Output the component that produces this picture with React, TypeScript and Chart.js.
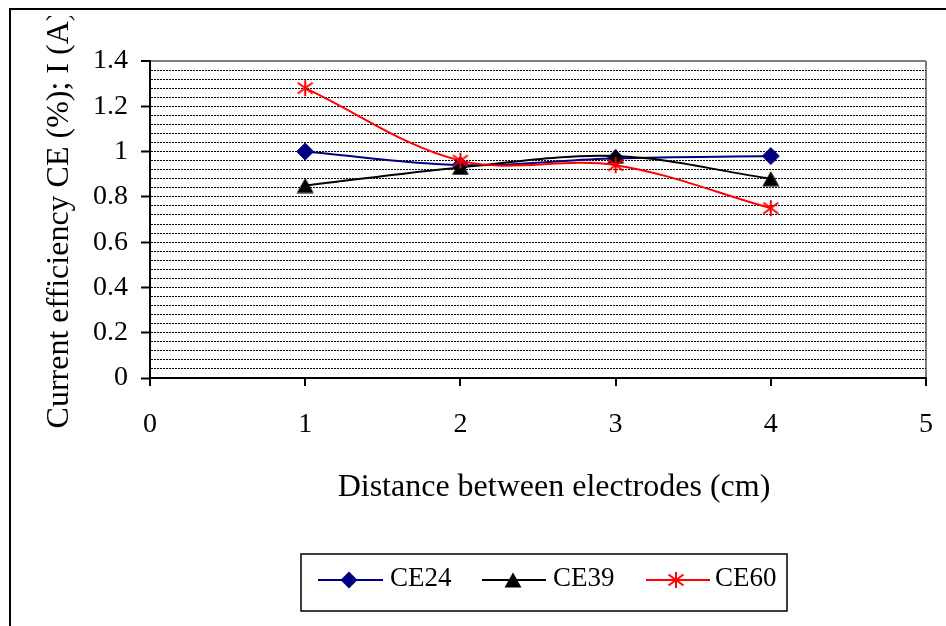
import React, { useEffect, useRef } from "react";
import { Chart, registerables } from "chart.js";

Chart.register(...registerables);

// ---- data ----
const distances = [1, 2, 3, 4];
const ce24 = [1.0, 0.94, 0.97, 0.98];
const ce39 = [0.85, 0.93, 0.98, 0.88];
const ce60 = [1.28, 0.96, 0.94, 0.75];
const seriesNames = ["CE24", "CE39", "CE60"];
const xMin = 0;
const xMax = 5;
const xStep = 1;
const yMin = 0;
const yMax = 1.4;
const yMajorStep = 0.2;
const yMinorStep = 0.04;
const xTitle = "Distance between electrodes (cm)";
const yTitle = "Current efficiency CE (%); I (A)";

const FONT = "'Times New Roman', 'Liberation Serif', serif";
const NAVY = "#000080";
const RED = "#ff0000";
const BLACK = "#000000";
const CLEAR = "rgba(0,0,0,0)";

const CANVAS_LEFT = 11;
const CANVAS_TOP = 16;
const CANVAS_W = 935;
const CANVAS_H = 610;

function isMajor(v: number) {
  const r = v / yMajorStep;
  return Math.abs(r - Math.round(r)) < 1e-6;
}

function makeTriangle(): HTMLCanvasElement {
  const c = document.createElement("canvas");
  c.width = 18;
  c.height = 16;
  const g = c.getContext("2d")!;
  g.fillStyle = BLACK;
  g.beginPath();
  g.moveTo(9, 0.5);
  g.lineTo(17.5, 15.5);
  g.lineTo(0.5, 15.5);
  g.closePath();
  g.fill();
  return c;
}

function makeStar(): HTMLCanvasElement {
  const c = document.createElement("canvas");
  c.width = 18;
  c.height = 18;
  const g = c.getContext("2d")!;
  g.strokeStyle = RED;
  g.lineWidth = 2;
  g.beginPath();
  g.moveTo(9, 1);
  g.lineTo(9, 17);
  g.moveTo(1.5, 3.5);
  g.lineTo(16.5, 14.5);
  g.moveTo(1.5, 14.5);
  g.lineTo(16.5, 3.5);
  g.stroke();
  return c;
}

export default function App() {
  const ref = useRef<HTMLCanvasElement | null>(null);

  useEffect(() => {
    const canvas = ref.current;
    if (!canvas) return;
    const tri = makeTriangle();
    const star = makeStar();

    const legendPlugin = {
      id: "excelLegend",
      afterDraw(chart: any) {
        const ctx = chart.ctx as CanvasRenderingContext2D;
        ctx.save();
        ctx.strokeStyle = BLACK;
        ctx.lineWidth = 1.5;
        ctx.strokeRect(290, 538, 486, 57);
        const cy = 564;
        const items = [
          { x1: 307, x2: 372, m: 338, tx: 379, color: NAVY, kind: "diamond" },
          { x1: 471, x2: 535, m: 502, tx: 542, color: BLACK, kind: "tri" },
          { x1: 635, x2: 699, m: 665, tx: 704, color: RED, kind: "star" },
        ];
        items.forEach((it, i) => {
          ctx.strokeStyle = it.color;
          ctx.lineWidth = 2;
          ctx.beginPath();
          ctx.moveTo(it.x1, cy);
          ctx.lineTo(it.x2, cy);
          ctx.stroke();
          if (it.kind === "diamond") {
            ctx.fillStyle = NAVY;
            ctx.beginPath();
            ctx.moveTo(it.m - 8.5, cy);
            ctx.lineTo(it.m, cy - 8.5);
            ctx.lineTo(it.m + 8.5, cy);
            ctx.lineTo(it.m, cy + 8.5);
            ctx.closePath();
            ctx.fill();
          } else if (it.kind === "tri") {
            ctx.drawImage(tri, it.m - tri.width / 2, cy - tri.height / 2);
          } else {
            ctx.drawImage(star, it.m - star.width / 2, cy - star.height / 2);
          }
          ctx.fillStyle = BLACK;
          ctx.font = `27px ${FONT}`;
          ctx.textAlign = "left";
          ctx.textBaseline = "middle";
          ctx.fillText(seriesNames[i], it.tx, cy - 1.5);
        });
        ctx.restore();
      },
    };

    const toPts = (ys: number[]) => distances.map((x, i) => ({ x, y: ys[i] }));

    const chart = new Chart(canvas, {
      type: "line",
      data: {
        datasets: [
          {
            label: seriesNames[0],
            data: toPts(ce24),
            borderColor: NAVY,
            backgroundColor: NAVY,
            borderWidth: 2,
            pointStyle: "rectRot",
            pointRadius: 8.5,
            pointBorderWidth: 1,
            pointBackgroundColor: NAVY,
            pointBorderColor: NAVY,
            tension: 0.35,
            order: 2,
          },
          {
            label: seriesNames[1],
            data: toPts(ce39),
            borderColor: BLACK,
            backgroundColor: BLACK,
            borderWidth: 2,
            pointStyle: tri,
            pointRadius: 9,
            tension: 0.35,
            order: 1,
          },
          {
            label: seriesNames[2],
            data: toPts(ce60),
            borderColor: RED,
            backgroundColor: RED,
            borderWidth: 2,
            pointStyle: star,
            pointRadius: 9,
            tension: 0.35,
            order: 0,
          },
        ] as any,
      },
      options: {
        animation: false,
        responsive: false,
        devicePixelRatio: 1,
        events: [],
        layout: { padding: { left: 0, top: 45, right: 20, bottom: 118 } },
        plugins: {
          legend: { display: false },
          tooltip: { enabled: false },
        },
        scales: {
          x: {
            type: "linear",
            min: xMin,
            max: xMax,
            afterFit: (s: any) => {
              s.height = 130;
              s.paddingLeft = 0;
              s.paddingRight = 0;
            },
            ticks: {
              stepSize: xStep,
              color: BLACK,
              font: { family: FONT, size: 28 },
              padding: 22,
              maxRotation: 0,
            },
            grid: {
              color: (c: any) =>
                c.tick && Math.abs(c.tick.value - xMax) < 1e-6 ? "#808080" : CLEAR,
              lineWidth: 2,
              tickColor: BLACK,
              tickLength: 8,
              tickWidth: 2,
            },
            border: { color: BLACK, width: 2 },
            title: {
              display: true,
              text: "\u2002\u2002" + xTitle,
              color: BLACK,
              font: { family: FONT, size: 32 },
              padding: { top: 0, bottom: 1 },
            },
          },
          y: {
            type: "linear",
            min: yMin,
            max: yMax,
            afterFit: (s: any) => {
              s.width = 139;
              s.paddingTop = 0;
              s.paddingBottom = 0;
            },
            ticks: {
              stepSize: yMinorStep,
              autoSkip: false,
              color: BLACK,
              font: { family: FONT, size: 28 },
              padding: 13,
              callback: (v: any) => {
                const n = Number(v);
                return isMajor(n) ? String(Math.round(n * 10) / 10) : "";
              },
            },
            grid: {
              color: (c: any) => {
                if (!c.tick) return CLEAR;
                const v = c.tick.value;
                if (Math.abs(v - yMax) < 1e-6) return "#808080";
                if (Math.abs(v - yMin) < 1e-6) return CLEAR;
                return BLACK;
              },
              lineWidth: (c: any) =>
                c.tick && Math.abs(c.tick.value - yMax) < 1e-6 ? 2 : 1,
              tickColor: (c: any) =>
                c.tick && isMajor(c.tick.value) ? BLACK : CLEAR,
              tickLength: 9,
              tickWidth: 2,
            },
            border: {
              color: BLACK,
              width: 2,
              dash: (c: any) =>
                c.tick && Math.abs(c.tick.value - yMax) > 1e-6 ? [2, 1] : [],
            },
            title: {
              display: true,
              text: yTitle,
              color: BLACK,
              font: { family: FONT, size: 32 },
              padding: { top: 29, bottom: 0 },
            },
          },
        },
      } as any,
      plugins: [legendPlugin],
    });

    return () => chart.destroy();
  }, []);

  return (
    <div
      style={{
        position: "fixed",
        left: 0,
        top: 0,
        width: 946,
        height: 626,
        overflow: "hidden",
        background: "#fff",
      }}
    >
      <div
        style={{
          position: "absolute",
          left: 9,
          top: 8,
          width: 1100,
          height: 800,
          border: "2px solid #000",
          boxSizing: "border-box",
        }}
      />
      <canvas
        ref={ref}
        width={CANVAS_W}
        height={CANVAS_H}
        style={{
          position: "absolute",
          left: CANVAS_LEFT,
          top: CANVAS_TOP,
          width: CANVAS_W,
          height: CANVAS_H,
        }}
      />
    </div>
  );
}
